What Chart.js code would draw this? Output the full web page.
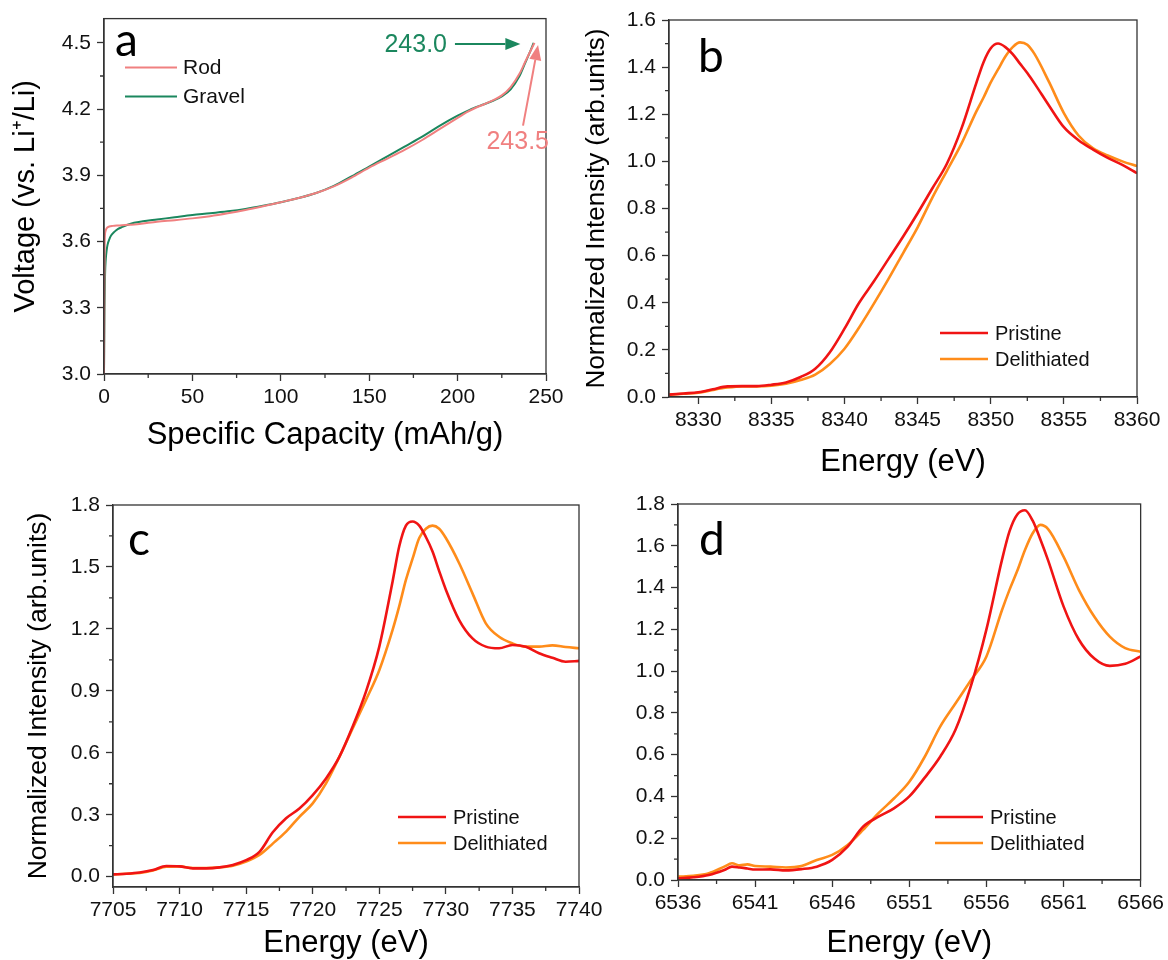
<!DOCTYPE html>
<html>
<head>
<meta charset="utf-8">
<script src="https://cdn.jsdelivr.net/npm/chart.js@4.4.1/dist/chart.umd.min.js"></script>
<style>
  body { margin: 0; background: #fff; width: 1168px; height: 960px; position: relative; overflow: hidden; }
  canvas { position: absolute; }
</style>
</head>
<body>
<canvas id="chartA" width="580" height="470" style="left:0;top:0"></canvas>
<canvas id="chartB" width="584" height="480" style="left:584px;top:0"></canvas>
<canvas id="chartC" width="620" height="480" style="left:0;top:480px"></canvas>
<canvas id="chartD" width="568" height="480" style="left:600px;top:480px"></canvas>
<script>
// ---- panel a: charge curves ----
const capRod = [0, 0.2, 0.4, 0.8, 1.5, 3, 5, 8, 12, 20, 30, 40, 50, 60, 70, 80, 90, 100, 110, 120, 130, 140, 150, 160, 170, 180, 190, 200, 205, 210, 215, 220, 225, 230, 235, 238, 241, 243.5];
const voltRod = [3.0, 3.35, 3.6, 3.645, 3.66, 3.668, 3.671, 3.673, 3.675, 3.68, 3.69, 3.697, 3.705, 3.715, 3.728, 3.743, 3.76, 3.778, 3.797, 3.82, 3.85, 3.89, 3.935, 3.975, 4.015, 4.06, 4.11, 4.16, 4.185, 4.205, 4.222, 4.24, 4.262, 4.3, 4.36, 4.41, 4.46, 4.5];
const capGravel = [0, 0.3, 0.6, 1, 1.5, 2, 3, 4, 6, 8, 10, 13, 17, 22, 30, 40, 50, 60, 70, 80, 90, 100, 110, 120, 130, 140, 150, 160, 170, 180, 190, 200, 205, 210, 215, 220, 225, 230, 235, 238, 241, 243];
const voltGravel = [3.0, 3.3, 3.45, 3.52, 3.56, 3.585, 3.61, 3.627, 3.645, 3.657, 3.665, 3.675, 3.685, 3.692, 3.7, 3.71, 3.72, 3.728, 3.737, 3.748, 3.762, 3.778, 3.797, 3.82, 3.852, 3.895, 3.94, 3.985, 4.03, 4.075, 4.125, 4.17, 4.19, 4.208, 4.222, 4.238, 4.258, 4.29, 4.35, 4.405, 4.46, 4.5];
const ticksAX = [0, 50, 100, 150, 200, 250];
const ticksAY = [3.0, 3.3, 3.6, 3.9, 4.2, 4.5];

// ---- panel b ----
const energyB = [8328, 8329, 8330, 8331, 8332, 8333, 8334, 8335, 8336, 8337, 8338, 8339, 8340, 8341, 8342, 8343, 8344, 8345, 8346, 8347, 8348, 8349, 8349.5, 8350, 8350.5, 8351, 8351.5, 8352, 8352.5, 8353, 8354, 8355, 8356, 8357, 8358, 8359, 8360];
const pristineB = [0.01, 0.015, 0.02, 0.033, 0.045, 0.046, 0.046, 0.052, 0.062, 0.085, 0.12, 0.19, 0.29, 0.40, 0.49, 0.585, 0.68, 0.78, 0.885, 0.99, 1.14, 1.33, 1.42, 1.48, 1.50, 1.485, 1.455, 1.415, 1.375, 1.33, 1.235, 1.145, 1.09, 1.05, 1.015, 0.985, 0.95];
const delithB = [0.01, 0.014, 0.018, 0.03, 0.04, 0.045, 0.045, 0.048, 0.056, 0.072, 0.095, 0.14, 0.205, 0.295, 0.395, 0.5, 0.61, 0.72, 0.845, 0.96, 1.075, 1.21, 1.27, 1.335, 1.39, 1.445, 1.485, 1.505, 1.495, 1.455, 1.335, 1.205, 1.11, 1.055, 1.025, 1.0, 0.98];
const ticksBX = [8330, 8335, 8340, 8345, 8350, 8355, 8360];
const ticksBY = [0.0, 0.2, 0.4, 0.6, 0.8, 1.0, 1.2, 1.4, 1.6];

// ---- panel c ----
const energyC = [7705, 7706, 7707, 7708, 7709, 7710, 7711, 7712, 7713, 7714, 7715, 7716, 7717, 7718, 7719, 7720, 7721, 7722, 7723, 7724, 7725, 7726, 7726.5, 7727, 7727.5, 7728, 7728.5, 7729, 7729.5, 7730, 7731, 7732, 7733, 7734, 7735, 7736, 7737, 7738, 7739, 7740];
const pristineC = [0.011, 0.014, 0.02, 0.032, 0.052, 0.05, 0.04, 0.04, 0.045, 0.057, 0.08, 0.12, 0.215, 0.283, 0.33, 0.395, 0.476, 0.58, 0.727, 0.896, 1.114, 1.43, 1.6, 1.70, 1.72, 1.70, 1.645, 1.575, 1.48, 1.39, 1.243, 1.154, 1.114, 1.106, 1.122, 1.114, 1.082, 1.06, 1.041, 1.045];
const delithC = [0.011, 0.014, 0.018, 0.03, 0.048, 0.05, 0.042, 0.042, 0.045, 0.053, 0.073, 0.105, 0.16, 0.218, 0.29, 0.355, 0.452, 0.58, 0.718, 0.856, 1.0, 1.195, 1.31, 1.437, 1.54, 1.64, 1.685, 1.70, 1.685, 1.64, 1.518, 1.372, 1.227, 1.162, 1.13, 1.114, 1.114, 1.12, 1.112, 1.106];
const ticksCX = [7705, 7710, 7715, 7720, 7725, 7730, 7735, 7740];
const ticksCY = [0.0, 0.3, 0.6, 0.9, 1.2, 1.5, 1.8];

// ---- panel d ----
const energyD = [6536, 6537, 6538, 6539, 6539.5, 6540, 6540.5, 6541, 6542, 6543, 6544, 6545, 6546, 6547, 6548, 6549, 6550, 6551, 6552, 6553, 6554, 6555, 6556, 6557, 6557.5, 6558, 6558.5, 6559, 6559.5, 6560, 6561, 6562, 6563, 6564, 6565, 6566];
const pristineD = [0.008, 0.013, 0.024, 0.048, 0.064, 0.06, 0.055, 0.05, 0.051, 0.046, 0.052, 0.064, 0.096, 0.16, 0.255, 0.303, 0.343, 0.40, 0.49, 0.59, 0.72, 0.93, 1.2, 1.53, 1.67, 1.75, 1.77, 1.72, 1.63, 1.53, 1.31, 1.15, 1.06, 1.025, 1.035, 1.07];
const delithD = [0.016, 0.02, 0.032, 0.064, 0.08, 0.07, 0.075, 0.067, 0.064, 0.06, 0.067, 0.096, 0.12, 0.168, 0.24, 0.32, 0.39, 0.47, 0.59, 0.734, 0.846, 0.957, 1.07, 1.29, 1.39, 1.48, 1.58, 1.66, 1.70, 1.68, 1.548, 1.388, 1.26, 1.165, 1.11, 1.093];
const ticksDX = [6536, 6541, 6546, 6551, 6556, 6561, 6566];
const ticksDY = [0.0, 0.2, 0.4, 0.6, 0.8, 1.0, 1.2, 1.4, 1.6, 1.8];

const AXIS = '#333333';
const TEXT = '#111111';
const FONT = "'Liberation Sans', Arial, sans-serif";
const RED = '#f01414';
const ORANGE = '#ff8c1a';
const ROD = '#f08080';
const GRAVEL = '#1b875e';

// midpoints between major ticks -> minor ticks
function minorOf(ticks) {
  const out = [];
  for (let i = 0; i < ticks.length - 1; i++) out.push((ticks[i] + ticks[i + 1]) / 2);
  return out;
}

function xy(xs, ys) {
  return xs.map((x, i) => ({ x: x, y: ys[i] }));
}

function drawArrow(ctx, x1, y1, x2, y2, color) {
  const ang = Math.atan2(y2 - y1, x2 - x1);
  const head = 15, half = 6;
  const bx = x2 - head * Math.cos(ang), by = y2 - head * Math.sin(ang);
  ctx.strokeStyle = color;
  ctx.fillStyle = color;
  ctx.lineWidth = 2;
  ctx.beginPath();
  ctx.moveTo(x1, y1);
  ctx.lineTo(bx, by);
  ctx.stroke();
  ctx.beginPath();
  ctx.moveTo(x2, y2);
  ctx.lineTo(bx + half * Math.sin(ang), by - half * Math.cos(ang));
  ctx.lineTo(bx - half * Math.sin(ang), by + half * Math.cos(ang));
  ctx.closePath();
  ctx.fill();
}

// frame box, minor ticks, panel letter, legend and notes
const decor = {
  id: 'decor',
  afterDraw(chart, args, opts) {
    const { ctx, chartArea: a, scales: { x, y } } = chart;
    ctx.save();
    ctx.strokeStyle = AXIS;
    ctx.lineWidth = 1.3;
    ctx.strokeRect(a.left, a.top, a.right - a.left, a.bottom - a.top);

    ctx.beginPath();
    opts.xMinor.forEach(v => {
      const px = x.getPixelForValue(v);
      ctx.moveTo(px, a.bottom);
      ctx.lineTo(px, a.bottom + 4);
    });
    opts.yMinor.forEach(v => {
      const py = y.getPixelForValue(v);
      ctx.moveTo(a.left, py);
      ctx.lineTo(a.left - 4, py);
    });
    ctx.stroke();

    // panel letter
    ctx.fillStyle = '#000';
    ctx.font = "46px Lato, 'Open Sans', sans-serif";
    ctx.textAlign = 'left';
    ctx.textBaseline = 'alphabetic';
    ctx.fillText(opts.letter, a.left + opts.letterPos[0], a.top + opts.letterPos[1]);

    // legend
    const lg = opts.legend;
    ctx.font = lg.size + 'px ' + FONT;
    ctx.textBaseline = 'middle';
    lg.items.forEach((it, i) => {
      const ly = a.top + lg.top + i * lg.gap;
      ctx.strokeStyle = it.color;
      ctx.lineWidth = lg.width;
      ctx.beginPath();
      ctx.moveTo(a.left + lg.x0, ly);
      ctx.lineTo(a.left + lg.x1, ly);
      ctx.stroke();
      ctx.fillStyle = TEXT;
      ctx.fillText(it.label, a.left + lg.tx, ly + 1);
    });

    // value notes with arrows (data coordinates)
    (opts.notes || []).forEach(n => {
      drawArrow(ctx, x.getPixelForValue(n.from[0]), y.getPixelForValue(n.from[1]),
        x.getPixelForValue(n.to[0]), y.getPixelForValue(n.to[1]), n.color);
      ctx.fillStyle = n.color;
      ctx.font = '25px ' + FONT;
      ctx.textAlign = n.align;
      ctx.textBaseline = 'middle';
      ctx.fillText(n.text, x.getPixelForValue(n.at[0]), y.getPixelForValue(n.at[1]));
    });
    ctx.restore();
  }
};

function makePanel(id, p) {
  return new Chart(document.getElementById(id), {
    type: 'line',
    data: { datasets: p.datasets },
    plugins: [decor],
    options: {
      responsive: false,
      animation: false,
      events: [],
      layout: { padding: p.padding },
      elements: { point: { radius: 0 }, line: { cubicInterpolationMode: 'monotone', borderJoinStyle: 'round' } },
      plugins: {
        legend: { display: false },
        tooltip: { enabled: false },
        decor: p.decor
      },
      scales: {
        x: {
          type: 'linear',
          min: p.xMin, max: p.xMax,
          afterBuildTicks: s => { s.ticks = p.xTicks.map(v => ({ value: v })); },
          afterFit: s => { s.height = p.xHeight; },
          ticks: {
            color: TEXT, font: { family: FONT, size: 21 }, padding: 4,
            maxRotation: 0, autoSkip: false,
            callback: v => String(Math.round(v))
          },
          grid: { drawOnChartArea: false, tickLength: 7, tickColor: AXIS, tickWidth: 1.3 },
          border: { color: AXIS, width: 1.3 },
          title: {
            display: true, text: p.xTitle, color: '#000',
            font: { family: FONT, size: 31, lineHeight: 1 },
            padding: { top: 0, bottom: p.xTitlePad }
          }
        },
        y: {
          type: 'linear',
          min: p.yMin, max: p.yMax,
          afterBuildTicks: s => { s.ticks = p.yTicks.map(v => ({ value: v })); },
          afterFit: s => { s.width = p.yWidth; },
          ticks: {
            color: TEXT, font: { family: FONT, size: 21 }, padding: 6,
            callback: v => v.toFixed(1)
          },
          grid: { drawOnChartArea: false, tickLength: 7, tickColor: AXIS, tickWidth: 1.3 },
          border: { color: AXIS, width: 1.3 },
          title: {
            display: !!p.yTitle, text: p.yTitle || '', color: '#000',
            font: { family: FONT, size: p.yTitleSize, lineHeight: 1 },
            padding: { top: p.yTitlePad, bottom: 0 }
          }
        }
      }
    }
  });
}

function xasSets(xs, pristine, delith) {
  return [
    { label: 'Pristine', data: xy(xs, pristine), borderColor: RED, borderWidth: 2.6, fill: false },
    { label: 'Delithiated', data: xy(xs, delith), borderColor: ORANGE, borderWidth: 2.6, fill: false }
  ];
}

function xasLegend(x0, top) {
  return {
    x0: x0, x1: x0 + 48, tx: x0 + 55, top: top, gap: 26, size: 20, width: 2.6,
    items: [{ label: 'Pristine', color: RED }, { label: 'Delithiated', color: ORANGE }]
  };
}

makePanel('chartA', {
  datasets: [
    { label: 'Rod', data: xy(capRod, voltRod), borderColor: ROD, borderWidth: 2, fill: false },
    { label: 'Gravel', data: xy(capGravel, voltGravel), borderColor: GRAVEL, borderWidth: 2, fill: false }
  ],
  padding: { top: 18, right: 34, left: 0, bottom: 0 },
  xMin: 0, xMax: 250, yMin: 3.0, yMax: 4.61,
  xTicks: ticksAX, yTicks: ticksAY,
  xHeight: 96, yWidth: 104,
  xTitle: 'Specific Capacity (mAh/g)', xTitlePad: 19,
  yTitle: 'Voltage (vs. Li\u207A/Li)', yTitleSize: 29, yTitlePad: 11,
  decor: {
    xMinor: minorOf(ticksAX), yMinor: minorOf(ticksAY),
    letter: 'a', letterPos: [11, 37],
    legend: {
      x0: 21, x1: 73, tx: 79, top: 49, gap: 29, size: 21, width: 2,
      items: [{ label: 'Rod', color: ROD }, { label: 'Gravel', color: GRAVEL }]
    },
    notes: [
      { text: '243.0', color: GRAVEL, align: 'right', at: [194, 4.49], from: [198.5, 4.495], to: [235.5, 4.495] },
      { text: '243.5', color: ROD, align: 'center', at: [234, 4.05], from: [237, 4.125], to: [245.5, 4.49] }
    ]
  }
});

makePanel('chartB', {
  datasets: xasSets(energyB, pristineB, delithB),
  padding: { top: 20, right: 31, left: 0, bottom: 0 },
  xMin: 8328, xMax: 8360, yMin: 0, yMax: 1.6,
  xTicks: ticksBX, yTicks: ticksBY,
  xHeight: 83, yWidth: 85,
  xTitle: 'Energy (eV)', xTitlePad: 2,
  yTitle: 'Normalized Intensity (arb.units)', yTitleSize: 26, yTitlePad: 0,
  decor: {
    xMinor: minorOf(ticksBX), yMinor: minorOf(ticksBY),
    letter: 'b', letterPos: [29, 52],
    legend: xasLegend(271, 313)
  }
});

makePanel('chartC', {
  datasets: xasSets(energyC, pristineC, delithC),
  padding: { top: 25, right: 41, left: 0, bottom: 0 },
  xMin: 7705, xMax: 7740, yMin: -0.05, yMax: 1.8,
  xTicks: ticksCX, yTicks: ticksCY,
  xHeight: 73, yWidth: 113,
  xTitle: 'Energy (eV)', xTitlePad: 1,
  yTitle: 'Normalized Intensity (arb.units)', yTitleSize: 26.5, yTitlePad: 25,
  decor: {
    xMinor: minorOf(ticksCX), yMinor: minorOf(ticksCY),
    letter: 'c', letterPos: [15, 50],
    legend: xasLegend(285, 312)
  }
});

makePanel('chartD', {
  datasets: xasSets(energyD, pristineD, delithD),
  padding: { top: 24, right: 23, left: 0, bottom: 0 },
  xMin: 6536, xMax: 6566, yMin: 0, yMax: 1.8,
  xTicks: ticksDX, yTicks: ticksDY,
  xHeight: 80, yWidth: 78,
  xTitle: 'Energy (eV)', xTitlePad: 1,
  yTitle: '', yTitleSize: 26, yTitlePad: 0,
  decor: {
    xMinor: minorOf(ticksDX), yMinor: minorOf(ticksDY),
    letter: 'd', letterPos: [21, 51],
    legend: xasLegend(257, 313)
  }
});
</script>
</body>
</html>
